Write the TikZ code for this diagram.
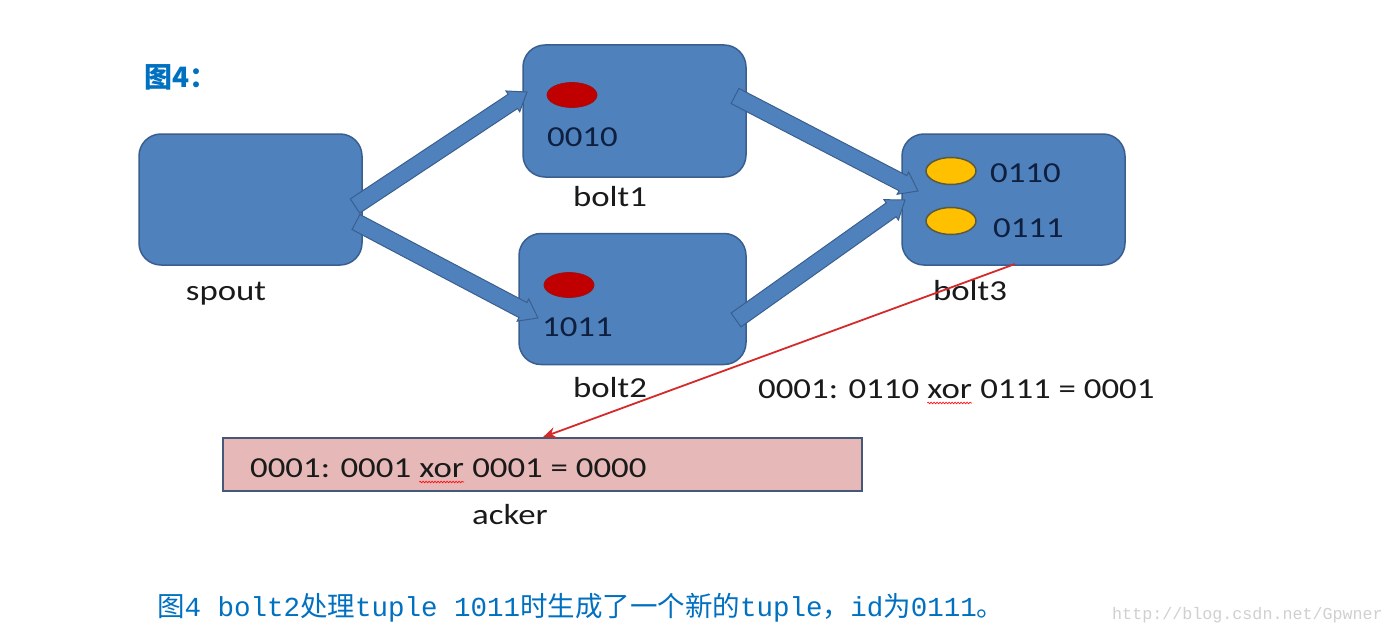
\documentclass[tikz,border=0pt]{standalone}
\usepackage{fontspec}
\setmainfont{Carlito}
\newfontfamily\cjk{Noto Sans CJK SC}
\newfontfamily\monof{Liberation Mono}
\usetikzlibrary{calc,arrows.meta,shapes.geometric,decorations.pathmorphing}
\definecolor{boxblue}{HTML}{4F81BD}
\definecolor{boxedge}{HTML}{3A5F8F}
\definecolor{redball}{HTML}{C00000}
\definecolor{redballedge}{HTML}{A01010}
\definecolor{yellowball}{HTML}{FFC000}
\definecolor{yellowedge}{HTML}{5A5A40}
\definecolor{ackfill}{HTML}{E6B9B8}
\definecolor{ackedge}{HTML}{44597A}
\definecolor{titleblue}{HTML}{0070C0}
\definecolor{redline}{HTML}{D42A2A}
\definecolor{txt}{HTML}{1A1A1A}
\definecolor{darktxt}{HTML}{0F1F3F}
\definecolor{wmgray}{HTML}{D0D0D0}
\newcommand\hwide[1]{\scalebox{1.2}[1]{#1}}
\tikzset{
  nodebox/.style={draw=boxedge, fill=boxblue, line width=1.5pt, rounded corners=22pt, inner sep=0pt},
  redb/.style={ellipse, draw=redballedge, fill=redball, line width=0.8pt, minimum width=50pt, minimum height=25pt, inner sep=0pt},
  yellowb/.style={ellipse, draw=yellowedge, fill=yellowball, line width=1.5pt, minimum width=50pt, minimum height=27pt, inner sep=0pt},
  lbl/.style={inner sep=0pt, anchor=base, text=txt, font=\fontsize{29}{34}\selectfont},
  lblw/.style={inner sep=0pt, anchor=base west, text=txt, font=\fontsize{29}{34}\selectfont},
  inlbl/.style={inner sep=0pt, anchor=base west, text=darktxt, font=\fontsize{29}{34}\selectfont},
  blockarrow/.style={fill=boxblue, draw=boxedge, line width=1pt, line join=miter},
  squig/.style={draw=red, line width=0.6pt, decorate, decoration={snake, amplitude=0.9pt, segment length=3pt}},
}
\newcommand\barrow[2]{%
  \coordinate (H) at ($(#2)!17pt!(#1)$);
  \filldraw[blockarrow] ($(#1)!8.5pt!90:(#2)$) -- ($(H)!8.5pt!-90:(#1)$) -- ($(H)!12.5pt!-90:(#1)$) -- (#2)
    -- ($(H)!12.5pt!90:(#1)$) -- ($(H)!8.5pt!90:(#1)$) -- ($(#1)!8.5pt!-90:(#2)$) -- cycle;}
\begin{document}
\begin{tikzpicture}[x=1pt,y=-1pt]
\useasboundingbox (0,0) rectangle (1393,634);
\fill[white] (0,0) rectangle (1393,634);

% title
\node[inner sep=0pt, anchor=base west, text=titleblue, font=\cjk\bfseries\fontsize{28}{32}\selectfont] (title) at (144,88) {图4：};

% boxes
\node[nodebox, minimum width=223pt, minimum height=131pt] (spout) at (250.5,199.5) {};
\node[nodebox, minimum width=223pt, minimum height=132pt] (bolt1) at (634.5,111) {};
\node[nodebox, minimum width=227pt, minimum height=131pt] (bolt2) at (632.5,299) {};
\node[nodebox, minimum width=223pt, minimum height=131pt] (bolt3) at (1013.5,199.5) {};

% balls
\node[redb] (r1) at (572,95) {};
\node[redb] (r2) at (569,285) {};
\node[yellowb] (y1) at (951,171) {};
\node[yellowb] (y2) at (951,221) {};

% ids
\node[inlbl] (id1) at (547,146) {\hwide{0010}};
\node[inlbl] (id2) at (542,336) {\hwide{1011}};
\node[inlbl] (id3) at (990,182) {\hwide{0110}};
\node[inlbl] (id4) at (993,237) {\hwide{0111}};

% labels
\node[lbl] (spoutl) at (226,300) {\hwide{spout}};
\node[lbl] (bolt1l) at (610,206) {\hwide{bolt1}};
\node[lbl] (bolt2l) at (610,397) {\hwide{bolt2}};
\node[lbl] (bolt3l) at (970,300) {\hwide{bolt3}};

% block arrows
\coordinate (s1) at (355,206);
\coordinate (e1) at (527,92);
\coordinate (s2) at (356,222);
\coordinate (e2) at (538,318);
\coordinate (s3) at (735,96);
\coordinate (e3) at (918,191);
\coordinate (s4) at (736,320);
\coordinate (e4) at (905,200);
\barrow{s1}{e1}
\barrow{s2}{e2}
\barrow{s4}{e4}
\barrow{s3}{e3}

% xor text near bolt3
\node[lblw] (xa) at (758,398) {\hwide{0001: 0110\ }};
\node[lblw] (xb) at (xa.base east) {\hwide{xor}};
\node[lblw] (xc) at (xb.base east) {\hwide{\ 0111 = 0001}};
\draw[squig] ($(xb.base west)+(0,5)$) -- ($(xb.base east)+(0,5)$);

% acker
\node[draw=ackedge, fill=ackfill, line width=1.8pt, minimum width=639pt, minimum height=53pt, inner sep=0pt] (acker) at (542.5,464.5) {};
\node[lblw] (aa) at (250,477) {\hwide{0001: 0001\ }};
\node[lblw] (ab) at (aa.base east) {\hwide{xor}};
\node[lblw] (ac) at (ab.base east) {\hwide{\ 0001 = 0000}};
\draw[squig] ($(ab.base west)+(0,5)$) -- ($(ab.base east)+(0,5)$);
\node[lbl] (ackerl) at (510,524) {\hwide{acker}};

% red connector
\coordinate (rs) at (1015,264);
\draw[redline, line width=1.8pt, -{Stealth[length=13pt,width=11pt]}] (rs) -- (acker.north -| 543,0);

% caption
\node[inner sep=0pt, anchor=base west, text=titleblue, font=\fontsize{27.5}{32}\selectfont] (cap) at (157,616)
  {{\cjk 图}{\monof 4 bolt2}{\cjk 处理}{\monof tuple 1011}{\cjk 时生成了一个新的}{\monof tuple}{\cjk ，}{\monof id}{\cjk 为}{\monof 0111}{\cjk 。}};

% watermark
\node[inner sep=0pt, anchor=base west, text=wmgray, font=\monof\fontsize{16.7}{20}\selectfont] (wm) at (1112,619) {http://blog.csdn.net/Gpwner};
\end{tikzpicture}
\end{document}
